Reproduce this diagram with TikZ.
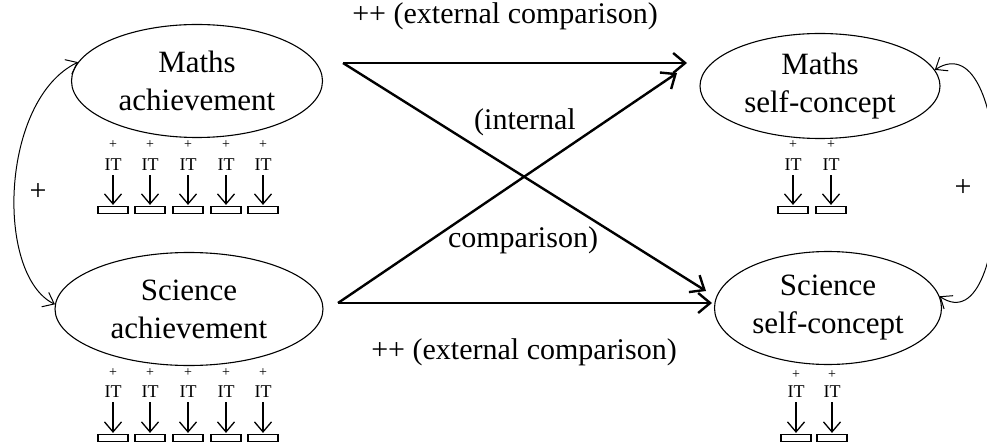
\documentclass[tikz,border=0pt]{standalone}
\usepackage{fontspec}
\setmainfont{Liberation Serif}
\usetikzlibrary{arrows.meta,shapes.geometric}

\begin{document}
\begin{tikzpicture}[x=1pt,y=-1pt,
  latent/.style={draw,ellipse,line width=1.1pt,inner sep=0pt,align=center,font=\fontsize{31}{38}\selectfont},
  lbl/.style={font=\fontsize{30}{36}\selectfont,inner sep=0pt},
  effect/.style={line width=2.4pt,-{Straight Barb[length=12pt,width=20pt]}},
  corr/.style={line width=1pt,{Straight Barb[length=10pt,width=16pt]}-{Straight Barb[length=10pt,width=16pt]}},
  itplus/.style={font=\fontsize{14}{14}\selectfont,inner sep=0pt},
  itlab/.style={font=\fontsize{18}{18}\selectfont,inner sep=0pt},
  indic/.style={draw,line width=1.2pt,minimum width=30pt,minimum height=7pt,inner sep=0pt},
  loading/.style={line width=1.3pt,shorten <=4pt,shorten >=1pt,-{Straight Barb[length=10pt,width=17pt]}}]
\useasboundingbox (0,0) rectangle (987,446);

% latent factors
\node[latent,minimum width=251pt,minimum height=113pt] (machieve) at (197,81) {Maths\\achievement};
\node[latent,minimum width=268pt,minimum height=113pt] (sachieve) at (189,309) {Science\\achievement};
\node[latent,minimum width=240pt,minimum height=105pt] (mself) at (820,86) {Maths\\self-concept};
\node[latent,minimum width=227pt,minimum height=113pt] (sself) at (828,308) {Science\\self-concept};

% ends of the paths
\coordinate (mfrom) at (343,63);
\coordinate (sfrom) at (338,303);
\coordinate (mto) at (687,63);
\coordinate (mto2) at (677,73);
\coordinate (sto) at (706,291);
\coordinate (sto2) at (712,303);

\draw[effect] (mfrom) -- (mto);
\draw[effect] (mfrom) -- (sto);
\draw[effect] (sfrom) -- (mto2);
\draw[effect] (sfrom) -- (sto2);

\node[lbl] (exttop) at (505,16) {++ (external comparison)};
\node[lbl] (extbot) at (524,352) {++ (external comparison)};
\node[lbl] (intone) at (525,122) {(internal};
\node[lbl] (inttwo) at (523,240) {comparison)};

% correlations
\draw[corr] (machieve.171) .. controls (0,100) and (-5,275) .. (sachieve.178);
\draw[corr] (mself.8) .. controls (1016,18) and (1016,348) .. (sself.6);
\node[lbl] (lplus) at (38,192) {+};
\node[lbl] (rplus) at (963,188) {+};

% indicators
\foreach \x [count=\i] in {113,150,188,226,263}{
  \node[itplus] (map\i) at (\x,145) {+};
  \node[itlab] (mait\i) at (\x,165) {IT};
  \node[indic] (mabox\i) at (\x,210) {};
  \draw[loading] (mait\i) -- (mabox\i);
  \node[itplus] (sap\i) at (\x,373) {+};
  \node[itlab] (sait\i) at (\x,392) {IT};
  \node[indic] (sabox\i) at (\x,438) {};
  \draw[loading] (sait\i) -- (sabox\i);
}
\foreach \x [count=\i] in {793,831}{
  \node[itplus] (msp\i) at (\x,145) {+};
  \node[itlab] (msit\i) at (\x,165) {IT};
  \node[indic] (msbox\i) at (\x,210) {};
  \draw[loading] (msit\i) -- (msbox\i);
}
\foreach \x [count=\i] in {796,832}{
  \node[itplus] (ssp\i) at (\x,375) {+};
  \node[itlab] (ssit\i) at (\x,392) {IT};
  \node[indic] (ssbox\i) at (\x,438) {};
  \draw[loading] (ssit\i) -- (ssbox\i);
}
\end{tikzpicture}
\end{document}
